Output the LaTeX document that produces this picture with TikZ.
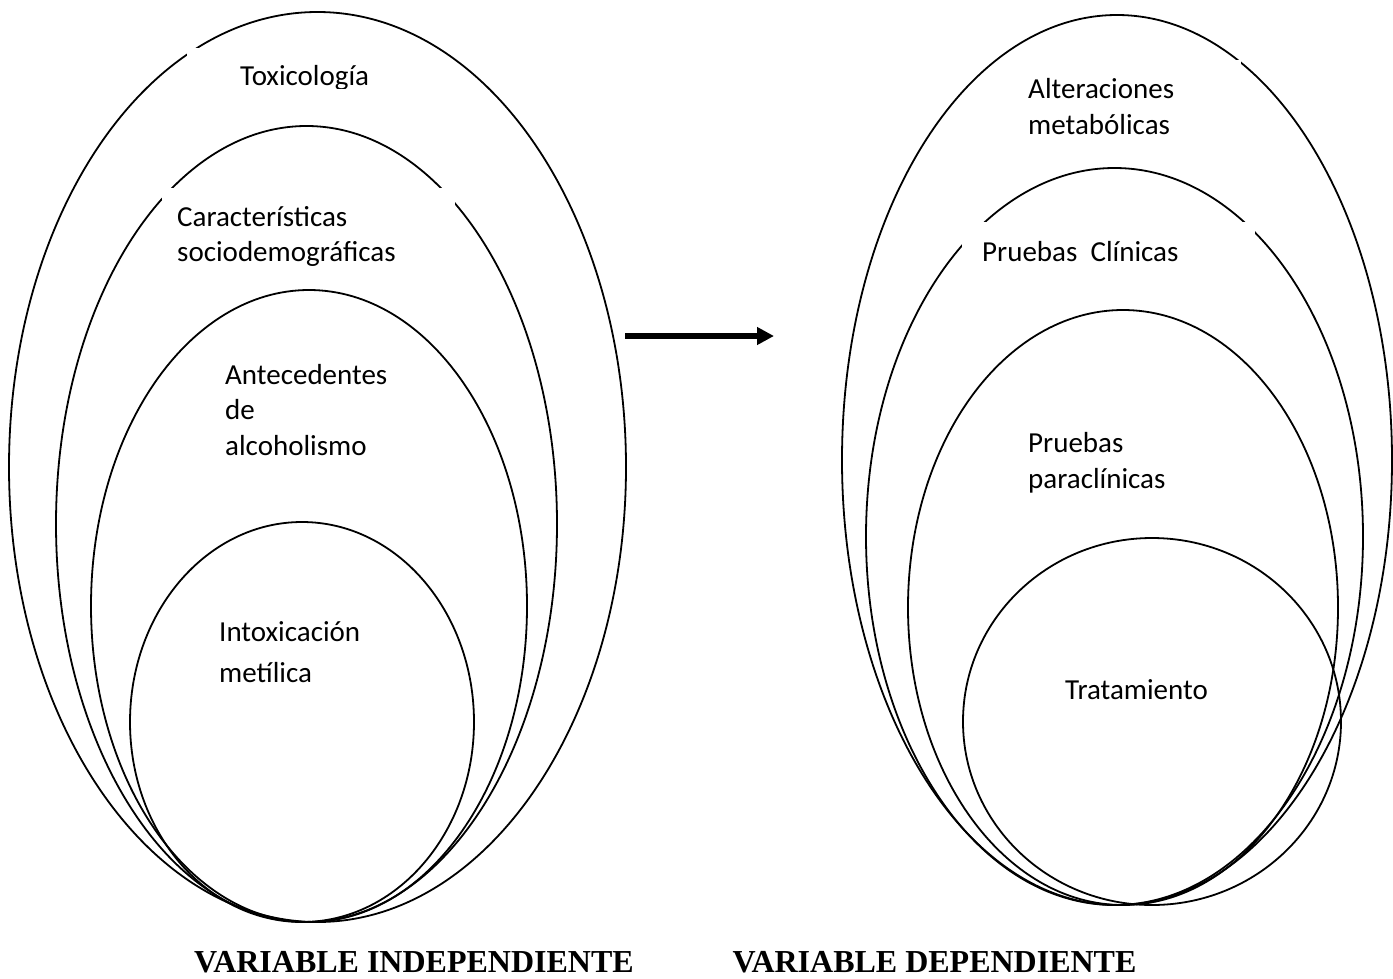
\documentclass[tikz,border=0pt]{standalone}
\usepackage{fontspec}
\setmainfont{Carlito}
\newfontfamily\labfont{Liberation Serif}
\usetikzlibrary{arrows.meta}
\begin{document}
\begin{tikzpicture}[x=1pt,y=-1pt,
  ring/.style={draw=black,line width=1.8pt},
  cover/.style={fill=white,draw=none},
  lbl/.style={anchor=base west,inner sep=0pt,font=\fontsize{29}{35}\selectfont},
  varlbl/.style={anchor=base,inner sep=0pt,font=\labfont\bfseries\fontsize{32}{38}\selectfont},
  bigarrow/.style={line width=5.5pt,-{Triangle[length=17pt,width=17pt]}}]
\useasboundingbox[fill=white] (0,0) rectangle (1393,978);

% left group
\draw[ring] (317.5,467) ellipse [x radius=308.5pt, y radius=455pt];
\draw[ring] (306.5,524) ellipse [x radius=250.5pt, y radius=398pt];
\draw[ring] (309,606) ellipse [x radius=218pt, y radius=316pt];
\draw[ring] (302,722) ellipse [x radius=172pt, y radius=200pt];

% right group
\draw[ring] (1117,460) ellipse [x radius=275pt, y radius=445pt];
\draw[ring] (1114.5,536.5) ellipse [x radius=248.5pt, y radius=368.5pt];
\draw[ring] (1123,607.5) ellipse [x radius=215pt, y radius=297.5pt];
\draw[ring] (1152,721.5) ellipse [x radius=189pt, y radius=183.5pt];

% white text boxes
\fill[cover] (187,48) rectangle (428,88);
\fill[cover] (162,188) rectangle (455,270);
\fill[cover] (1020,60) rectangle (1241,145);
\fill[cover] (962,222) rectangle (1255,300);

% texts
\begin{scope}
  \clip (187,40) rectangle (428,88);
  \node[lbl] (tox) at (240,85) {Toxicología};
\end{scope}
\node[lbl] (car1) at (177,226) {Características};
\node[lbl] (car2) at (177,261) {sociodemográficas};
\node[lbl] (ant1) at (225,384) {Antecedentes};
\node[lbl] (ant2) at (225,419) {de};
\node[lbl] (ant3) at (225,455) {alcoholismo};
\node[lbl] (int1) at (219,641) {Intoxicación};
\node[lbl] (int2) at (219,682) {metílica};

\node[lbl] (alt1) at (1028,98) {Alteraciones};
\node[lbl] (alt2) at (1028,134) {metabólicas};
\node[lbl] (pcl) at (982,261) {Pruebas\ \ Clínicas};
\node[lbl] (ppa1) at (1028,452) {Pruebas};
\node[lbl] (ppa2) at (1028,488) {paraclínicas};
\node[lbl] (tra) at (1065,699) {Tratamiento};

% arrow
\coordinate (a1) at (625,336);
\coordinate (a2) at (774,336);
\draw[bigarrow] (a1) -- (a2);

% variable labels
\node[varlbl] (vind) at (414,972) {VARIABLE INDEPENDIENTE};
\node[varlbl] (vdep) at (934.5,972) {VARIABLE DEPENDIENTE};
\end{tikzpicture}
\end{document}
